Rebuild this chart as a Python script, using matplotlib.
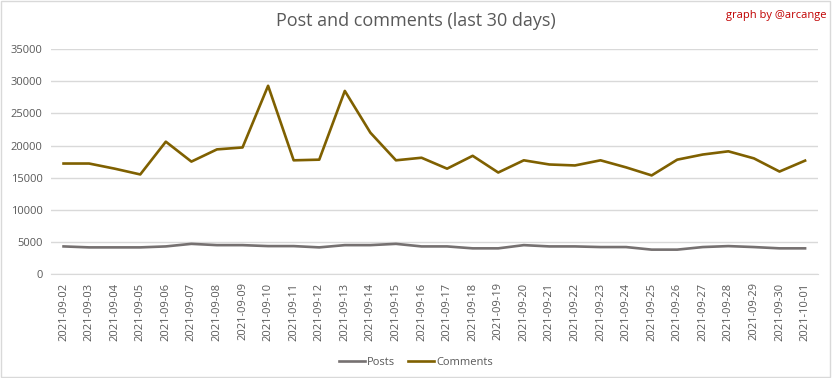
import numpy as np
import pandas as pd
import matplotlib
matplotlib.use("Agg")
import matplotlib.pyplot as plt

plt.rcParams['font.family'] = ['Open Sans', 'DejaVu Sans']

dates = pd.date_range("2021-09-02", "2021-10-01").strftime("%Y-%m-%d").tolist()

posts = [4300, 4150, 4150, 4150, 4300, 4700, 4500, 4500, 4350, 4350,
         4150, 4500, 4500, 4700, 4300, 4300, 4000, 4000, 4500, 4300,
         4300, 4200, 4200, 3800, 3800, 4200, 4350, 4200, 4000, 4000]
comments = [17200, 17200, 16400, 15500, 20600, 17500, 19400, 19700, 29300, 17700,
            17800, 28500, 22000, 17700, 18100, 16400, 18400, 15800, 17700, 17050,
            16900, 17700, 16600, 15350, 17800, 18600, 19100, 18000, 15950, 17650]
yticks = np.arange(0, 35001, 5000)

fig = plt.figure(figsize=(8.32, 3.78), dpi=100)
ax = fig.add_axes([0.061, 0.275, 0.922, 0.595])

x = np.arange(len(dates))
ax.plot(x, posts, color='#767171', lw=1.9, label='Posts')
ax.plot(x, comments, color='#7f6000', lw=1.9, label='Comments')

ax.set_xlim(-0.5, len(dates) - 0.5)
ax.set_ylim(0, 35000)
ax.set_yticks(yticks)
ax.set_yticklabels([str(v) for v in yticks], fontsize=8, color='#595959')
ax.set_xticks(x)
ax.set_xticklabels(dates, rotation=90, fontsize=8, color='#595959')
ax.tick_params(length=0, pad=6)
ax.grid(axis='y', color='#d9d9d9', lw=1)
ax.set_axisbelow(True)
for s in ['top', 'right', 'left']:
    ax.spines[s].set_visible(False)
ax.spines['bottom'].set_color('#d9d9d9')

fig.text(0.5, 0.945, 'Post and comments (last 30 days)', ha='center', va='center',
         fontsize=13, color='#595959')
fig.text(0.993, 0.958, 'graph by @arcange', ha='right', va='center',
         fontsize=8, color='#c00000')

fig.legend(loc='lower center', bbox_to_anchor=(0.5, 0.0), ncol=2, frameon=False,
           fontsize=8, labelcolor='#595959', handlelength=2.3, handletextpad=0.2,
           columnspacing=1.2)

fig.patches.append(plt.Rectangle((0.001, 0.002), 0.996, 0.995, transform=fig.transFigure,
                                 fill=False, edgecolor='#d9d9d9', lw=1))

fig.savefig('out.png', dpi=100)
